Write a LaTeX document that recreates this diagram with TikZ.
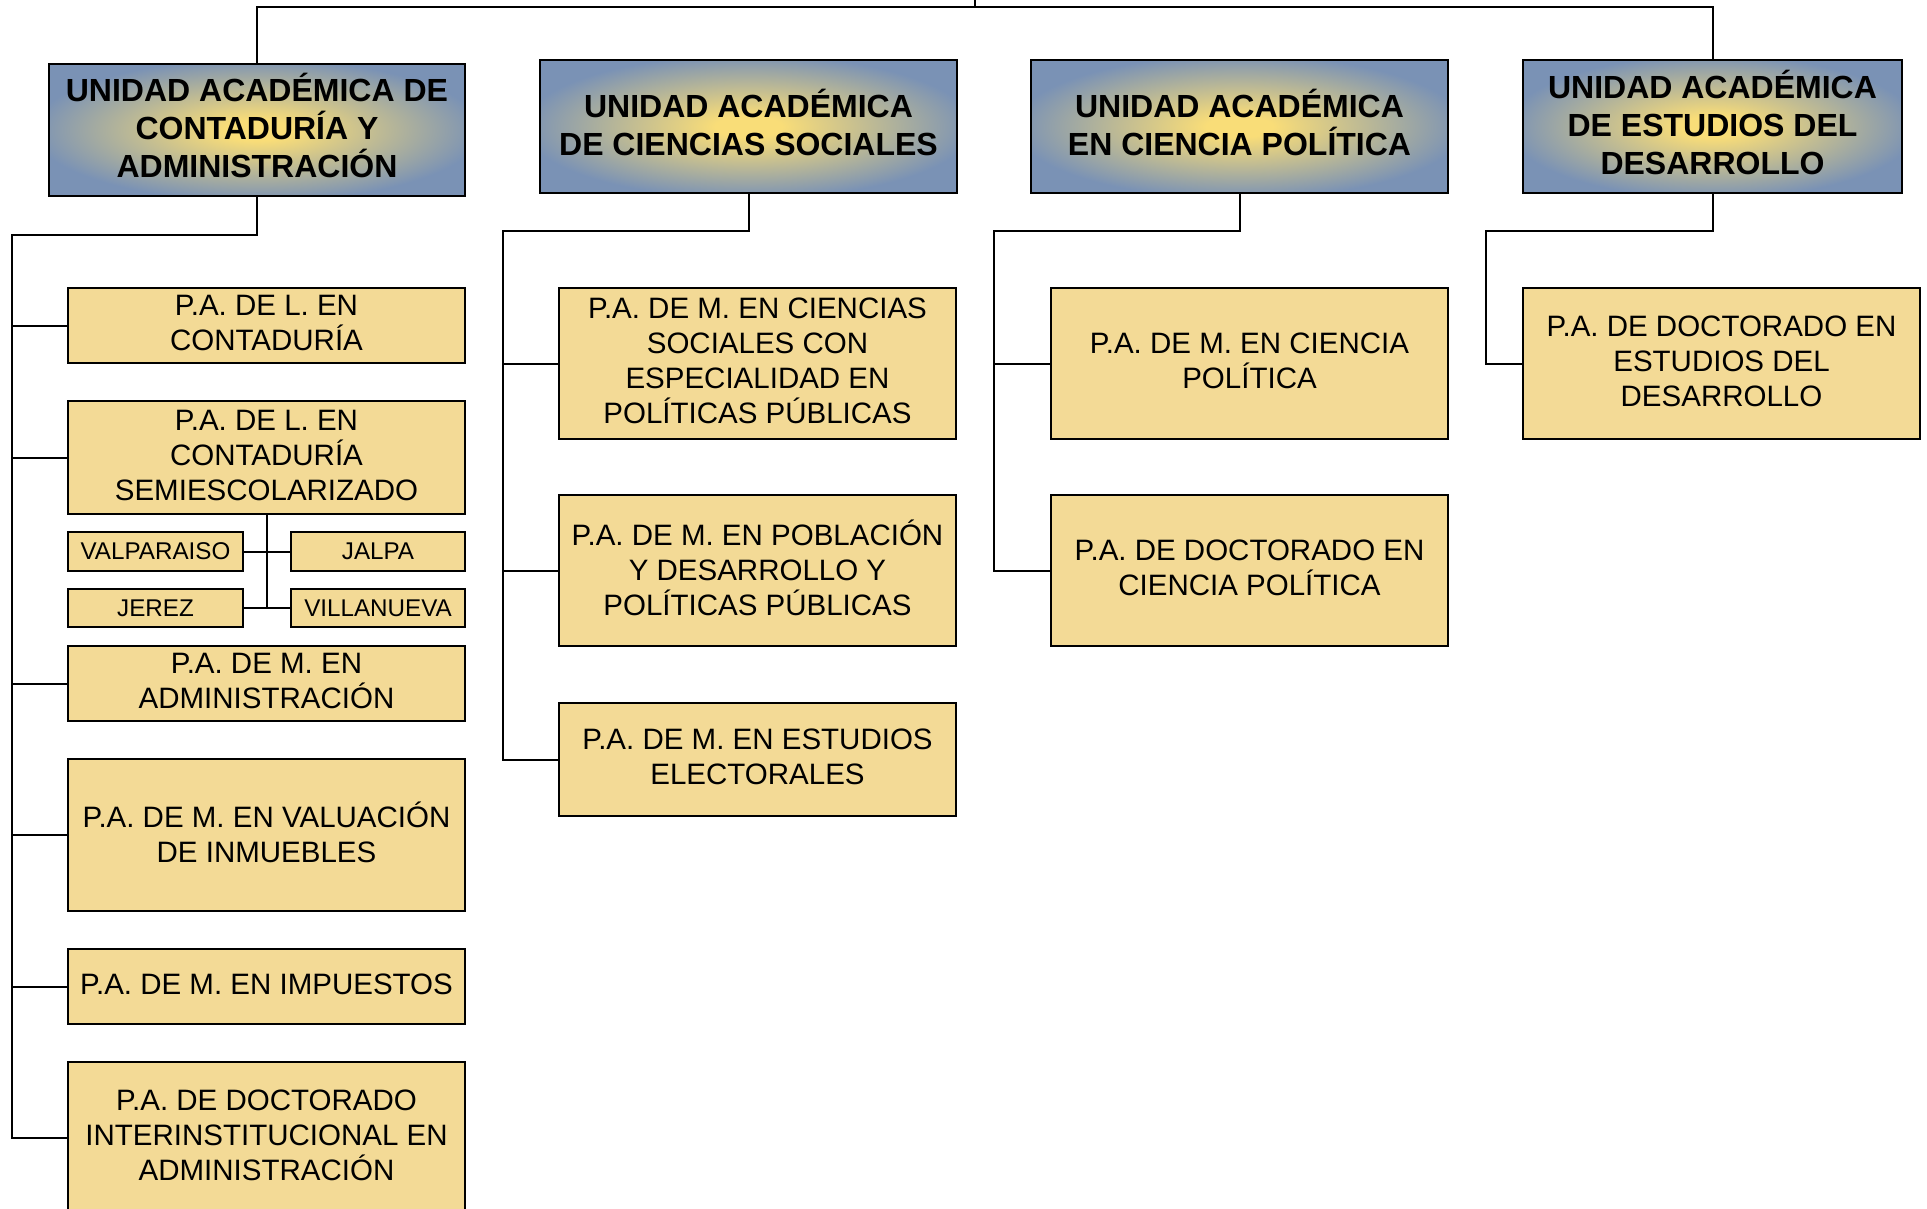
\documentclass[tikz,border=0pt]{standalone}
\usepackage{fontspec}
\setmainfont{Liberation Sans}
\definecolor{hblue}{RGB}{122,146,181}
\definecolor{hyel}{RGB}{249,221,120}
\definecolor{cfill}{RGB}{243,218,150}
\pgfdeclareradialshading{glow}{\pgfpoint{0bp}{0bp}}{color(0bp)=(hyel); color(4bp)=(hyel); color(27bp)=(hblue); color(50bp)=(hblue)}
\newcommand\bx[7]{%
  \node[#6box, minimum width={(#4-#2)*0.5pt}, minimum height={(#5-#3)*0.5pt}] (#1) at ({(#2+#4)/2},{(#3+#5)/2}) {};
  \node[#6text] (#1-t) at (#1.center) {#7};}
\tikzset{
  headbox/.style={draw=black, line width=1pt, shading=glow, inner sep=0pt},
  headtext/.style={inner sep=0pt, align=center, yshift=2.2pt,
    font={\fontsize{16}{19}\selectfont\bfseries}},
  childbox/.style={draw=black, line width=1pt, fill=cfill, inner sep=0pt},
  childtext/.style={inner sep=0pt, align=center, yshift=1.2pt,
    font={\fontsize{14.75}{17.5}\selectfont}},
  smallbox/.style={draw=black, line width=1pt, fill=cfill, inner sep=0pt},
  smalltext/.style={inner sep=0pt, align=center,
    font={\fontsize{12.1}{14}\selectfont}},
  conn/.style={draw=black, line width=1pt}
}
\begin{document}
\begin{tikzpicture}[x=0.5pt, y=-0.5pt]
\useasboundingbox (0,0) rectangle (1927,1209);
% headers
\bx{H1}{49}{64}{465}{196}{head}{UNIDAD ACADÉMICA DE\\CONTADURÍA Y\\ADMINISTRACIÓN}
\bx{H2}{540}{60}{957}{193}{head}{UNIDAD ACADÉMICA\\DE CIENCIAS SOCIALES}
\bx{H3}{1031}{60}{1448}{193}{head}{UNIDAD ACADÉMICA\\EN CIENCIA POLÍTICA}
\bx{H4}{1523}{60}{1902}{193}{head}{UNIDAD ACADÉMICA\\DE ESTUDIOS DEL\\DESARROLLO}
% column 1
\bx{A1}{68}{288}{465}{363}{child}{P.A. DE L. EN\\CONTADURÍA}
\bx{A2}{68}{401}{465}{514}{child}{P.A. DE L. EN\\CONTADURÍA\\SEMIESCOLARIZADO}
\bx{A3}{68}{646}{465}{721}{child}{P.A. DE M. EN\\ADMINISTRACIÓN}
\bx{A4}{68}{759}{465}{911}{child}{P.A. DE M. EN VALUACIÓN\\DE INMUEBLES}
\bx{A5}{68}{949}{465}{1024}{child}{P.A. DE M. EN IMPUESTOS}
\bx{A6}{68}{1062}{465}{1214}{child}{P.A. DE DOCTORADO\\INTERINSTITUCIONAL EN\\ADMINISTRACIÓN}
\bx{V}{68}{532}{243}{571}{small}{VALPARAISO}
\bx{J}{291}{532}{465}{571}{small}{JALPA}
\bx{JE}{68}{589}{243}{627}{small}{JEREZ}
\bx{VI}{291}{589}{465}{627}{small}{VILLANUEVA}
% column 2
\bx{B1}{559}{288}{956}{439}{child}{P.A. DE M. EN CIENCIAS\\SOCIALES CON\\ESPECIALIDAD EN\\POLÍTICAS PÚBLICAS}
\bx{B2}{559}{495}{956}{646}{child}{P.A. DE M. EN POBLACIÓN\\Y DESARROLLO Y\\POLÍTICAS PÚBLICAS}
\bx{B3}{559}{703}{956}{816}{child}{P.A. DE M. EN ESTUDIOS\\ELECTORALES}
% column 3
\bx{C1}{1051}{288}{1448}{439}{child}{P.A. DE M. EN CIENCIA\\POLÍTICA}
\bx{C2}{1051}{495}{1448}{646}{child}{P.A. DE DOCTORADO EN\\CIENCIA POLÍTICA}
% column 4
\bx{D1}{1523}{288}{1920}{439}{child}{P.A. DE DOCTORADO EN\\ESTUDIOS DEL\\DESARROLLO}
% top connectors
\coordinate (top) at (975,-5);
\coordinate (tl) at (975,7);
\draw[conn] (top) -- (tl);
\draw[conn] (H1.north) |- (tl) -| (H4.north);
% spines
\coordinate (s1) at (12,235);
\coordinate (s2) at (503,231);
\coordinate (s3) at (994,231);
\coordinate (s4) at (1486,231);
\draw[conn] (H1.south) |- (s1) |- (A6.west);
\foreach \n in {A1,A2,A3,A4,A5} \draw[conn] (\n.west) -- (\n.west -| s1);
\draw[conn] (H2.south) |- (s2) |- (B3.west);
\foreach \n in {B1,B2} \draw[conn] (\n.west) -- (\n.west -| s2);
\draw[conn] (H3.south) |- (s3) |- (C2.west);
\draw[conn] (C1.west) -- (C1.west -| s3);
\draw[conn] (H4.south) |- (s4) |- (D1.west);
% campus connectors
\draw[conn] (A2.south) -- (A2.south |- JE.east);
\draw[conn] (V.east) -- (J.west);
\draw[conn] (JE.east) -- (VI.west);
\end{tikzpicture}
\end{document}
